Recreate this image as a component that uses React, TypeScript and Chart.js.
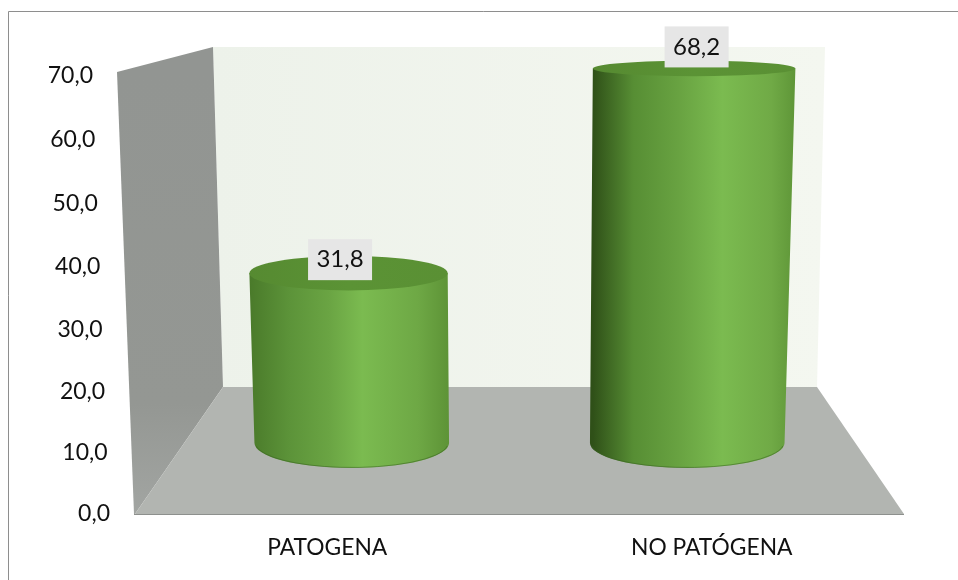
import React, { useEffect, useRef } from "react";
import { Chart, registerables, LinearScale, CategoryScale } from "chart.js";

const categories = ["PATOGENA", "NO PATÓGENA"];
const frequencies = [31.8, 68.2];
const yTicks = [0, 10, 20, 30, 40, 50, 60, 70];

const FONT = "Lato";
const TICK_SIZE = 23;
const CATEGORY_SIZE = 22.8;
const LABEL_SIZE = 24;
const CURVE = 0.947; // share of the axis height that is linear in the value

// Labels sit on the front plane of the box, the columns on its middle plane.
const frontY = (v: number) => 514 - (6.07 * v + 0.00286 * v * v);
const frontRight = (v: number) => 110 - (17 * v) / 70;
const frontCategoryX = (i: number) => 135 + (769 / 2) * (i + 0.5);

class DepthLinearScale extends LinearScale {
  static id = "depthLinear";
  static defaults = LinearScale.defaults;
  getPixelForValue(value: number) {
    const t = (value - this.min) / (this.max - this.min);
    return this.bottom - (this.bottom - this.top) * (CURVE * t + (1 - CURVE) * t * t);
  }
  _computeLabelItems(area: any) {
    const items = super._computeLabelItems(area);
    items.forEach((item: any, i: number) => {
      const v = this.ticks[i].value;
      item.textOffset = 0;
      item.options.textAlign = "right";
      item.options.textBaseline = "middle";
      item.options.translation = [frontRight(v), frontY(v)];
    });
    return items;
  }
}

class DepthCategoryScale extends CategoryScale {
  static id = "depthCategory";
  static defaults = CategoryScale.defaults;
  _computeLabelItems(area: any) {
    const items = super._computeLabelItems(area);
    items.forEach((item: any, i: number) => {
      item.textOffset = 0;
      item.options.textAlign = "center";
      item.options.textBaseline = "middle";
      item.options.translation = [frontCategoryX(i), 547.5];
    });
    return items;
  }
}

Chart.register(...registerables, DepthLinearScale, DepthCategoryScale);

const poly = (ctx: CanvasRenderingContext2D, pts: number[][], fill: any) => {
  ctx.beginPath();
  pts.forEach(([x, y], i) => (i ? ctx.lineTo(x, y) : ctx.moveTo(x, y)));
  ctx.closePath();
  ctx.fillStyle = fill;
  ctx.fill();
};

// Frame, back wall, side wall and floor of the 3D box.
const boxPlugin = {
  id: "box",
  beforeDraw(chart: any) {
    const ctx: CanvasRenderingContext2D = chart.ctx;
    ctx.save();
    ctx.strokeStyle = "#8e8e8e";
    ctx.lineWidth = 1;
    ctx.beginPath();
    ctx.moveTo(8.5, 580);
    ctx.lineTo(8.5, 11.5);
    ctx.lineTo(958, 11.5);
    ctx.stroke();

    const back = ctx.createLinearGradient(213, 0, 825, 0);
    back.addColorStop(0, "#edf2ea");
    back.addColorStop(1, "#f4f7f0");
    poly(ctx, [[213, 47], [825, 47], [817, 387], [223, 387]], back);

    const side = ctx.createLinearGradient(0, 72, 0, 514);
    side.addColorStop(0, "#929592");
    side.addColorStop(0.75, "#949793");
    side.addColorStop(1, "#a2a5a2");
    poly(ctx, [[117, 72], [213, 47], [223, 387], [135, 514], [134, 514]], side);

    poly(ctx, [[223, 387], [817, 387], [904, 514], [135, 514]], "#b2b5b1");
    ctx.strokeStyle = "#8d908d";
    ctx.beginPath();
    ctx.moveTo(134, 514.5);
    ctx.lineTo(904, 514.5);
    ctx.stroke();
    ctx.restore();
  },
};

const sideStops = [
  ["#4a7a2a", "#5c9339", "#6aa443", "#7bbb50", "#6ea845", "#5e9437"],
  ["#2f5018", "#578e34", "#68a241", "#7bbb50", "#70aa46", "#5f9638"],
];
const stopAt = [
  [0, 0.2, 0.4, 0.57, 0.85, 1],
  [0, 0.2, 0.42, 0.64, 0.88, 1],
];
const labelShift = [[-8.5, -13.5], [2.5, -21.5]];

// Columns are drawn as cylinders from the bar elements the controller lays out.
const cylinderPlugin = {
  id: "cylinder",
  beforeDatasetDraw(chart: any, args: any) {
    const ctx: CanvasRenderingContext2D = chart.ctx;
    const mid = (chart.chartArea.left + chart.chartArea.right) / 2;
    args.meta.data.forEach((bar: any, i: number) => {
      const v = frequencies[i];
      const { x, y, base, width } = bar.getProps(["x", "y", "base", "width"], true);
      const s = 1 + 0.0006 * v;
      const hw = width / 2;
      const tx = mid + (x - mid) * s;
      const thw = hw * s;
      const topRy = 25.5 - 0.26 * v;

      const grad = ctx.createLinearGradient(tx - thw, 0, tx + thw, 0);
      sideStops[i].forEach((c, k) => grad.addColorStop(stopAt[i][k], c));
      ctx.beginPath();
      ctx.moveTo(tx + thw, y);
      ctx.lineTo(x + hw, base);
      ctx.ellipse(x, base, hw, 25, 0, 0, Math.PI);
      ctx.lineTo(tx - thw, y);
      ctx.closePath();
      ctx.fillStyle = grad;
      ctx.fill();

      // Thin darker rim along the foot of the column.
      ctx.beginPath();
      ctx.ellipse(x, base, hw - 1, 24.5, 0, 0.12, Math.PI - 0.12);
      ctx.strokeStyle = "rgba(58,100,34,0.55)";
      ctx.lineWidth = 1;
      ctx.stroke();

      const cap = ctx.createLinearGradient(tx - thw, 0, tx + thw, 0);
      cap.addColorStop(0, "#568a31");
      cap.addColorStop(0.5, "#5b9335");
      cap.addColorStop(1, "#5a9034");
      ctx.beginPath();
      ctx.ellipse(tx, y, thw, topRy, 0, 0, Math.PI * 2);
      ctx.fillStyle = cap;
      ctx.fill();
    });
    return false;
  },
  afterDatasetsDraw(chart: any) {
    const ctx: CanvasRenderingContext2D = chart.ctx;
    const mid = (chart.chartArea.left + chart.chartArea.right) / 2;
    chart.getDatasetMeta(0).data.forEach((bar: any, i: number) => {
      const v = frequencies[i];
      const { x, y } = bar.getProps(["x", "y"], true);
      const tx = mid + (x - mid) * (1 + 0.0006 * v);
      const cx = tx + labelShift[i][0];
      const cy = y + labelShift[i][1];
      ctx.fillStyle = "#e6e6e6";
      ctx.fillRect(cx - 32, cy - 20.5, 64, 41);
      ctx.fillStyle = "#111111";
      ctx.font = `${LABEL_SIZE}px ${FONT}`;
      ctx.textAlign = "center";
      ctx.textBaseline = "middle";
      ctx.fillText(v.toFixed(1).replace(".", ","), cx, cy);
    });
  },
};

export default function App() {
  const ref = useRef<HTMLCanvasElement>(null);
  useEffect(() => {
    const chart = new Chart(ref.current!, {
      type: "bar",
      data: {
        labels: categories,
        datasets: [{ data: frequencies, backgroundColor: "#6ca53f", barPercentage: 0.58, categoryPercentage: 1 }],
      },
      plugins: [boxPlugin, cylinderPlugin],
      options: {
        animation: false,
        responsive: false,
        events: [],
        layout: { padding: { top: 58, right: 103, left: 0, bottom: 0 } },
        plugins: { legend: { display: false }, tooltip: { enabled: false } },
        scales: {
          x: {
            type: "depthCategory",
            grid: { display: false },
            border: { display: false },
            ticks: { color: "#111111", font: { family: FONT, size: CATEGORY_SIZE }, maxRotation: 0, autoSkip: false },
            afterFit: (s: any) => { s.height = 137; },
          },
          y: {
            type: "depthLinear",
            min: yTicks[0],
            max: yTicks[yTicks.length - 1],
            grid: { display: false },
            border: { display: false },
            ticks: {
              stepSize: 10,
              color: "#111111",
              font: { family: FONT, size: TICK_SIZE },
              callback: (v: any) => Number(v).toFixed(1).replace(".", ","),
            },
            afterFit: (s: any) => { s.width = 184; },
          },
        },
      } as any,
    });
    return () => chart.destroy();
  }, []);
  return (
    <div style={{ position: "absolute", left: 0, top: 0, width: 958, height: 580 }}>
      <canvas ref={ref} width={958} height={580} style={{ display: "block" }} />
    </div>
  );
}
